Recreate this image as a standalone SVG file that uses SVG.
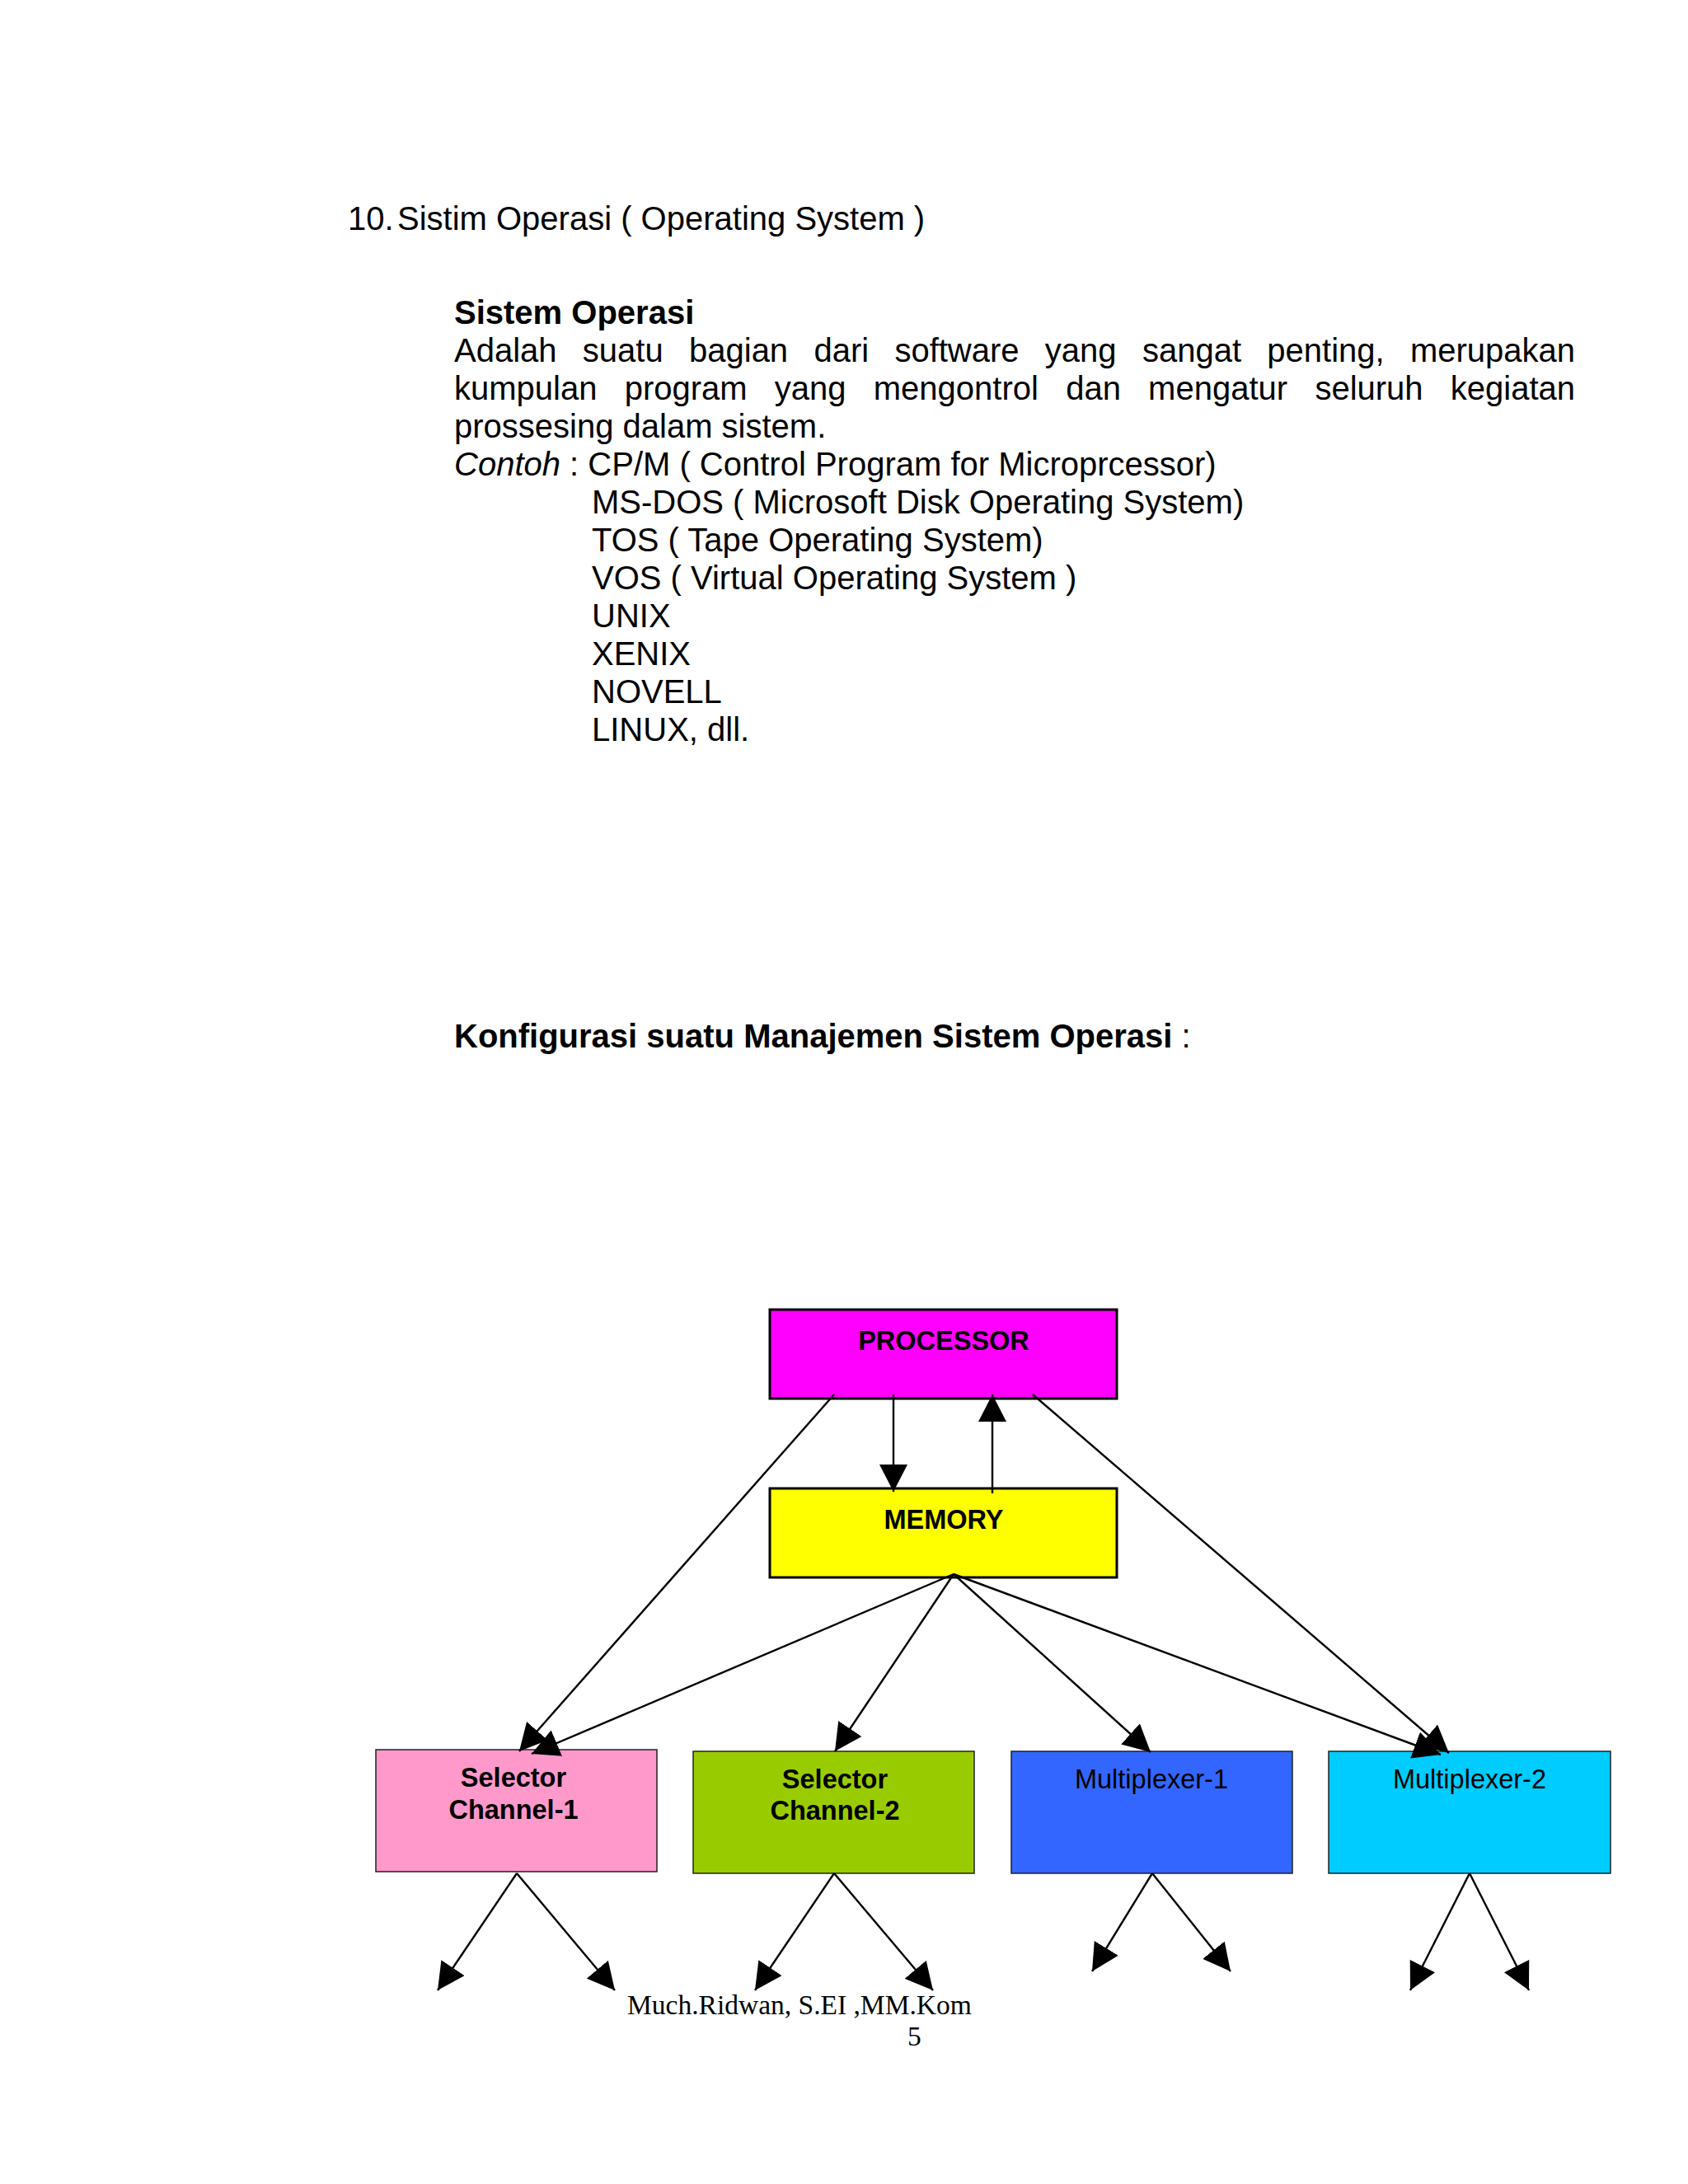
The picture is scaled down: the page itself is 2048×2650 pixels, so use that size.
<svg xmlns="http://www.w3.org/2000/svg" width="2048" height="2650" viewBox="0 0 2048 2650">
<style>
.t{font-family:"Liberation Sans",Arial,sans-serif;font-size:40px;fill:#000}
.b{font-weight:bold}
.i{font-style:italic}
.nl{font-family:"Liberation Sans",Arial,sans-serif;font-size:32.5px;fill:#000;text-anchor:middle}
.ft{font-family:"Liberation Serif","Times New Roman",serif;font-size:33.5px;fill:#000}
.box{stroke:#000;stroke-width:3}
.sbox{stroke:#222;stroke-width:1.5}
.c{stroke:#000;stroke-width:2.4;fill:none;marker-end:url(#ah)}
</style>
<defs>
<marker id="ah" viewBox="0 0 33 34" refX="33" refY="17" markerWidth="33" markerHeight="34" markerUnits="userSpaceOnUse" orient="auto">
<path d="M0,0 L33,17 L0,34 Z" fill="#000"/>
</marker>
</defs>
<rect width="2048" height="2650" fill="#fff"/>

<g id="text">
<text class="t" x="422" y="279">10.</text>
<text class="t" x="482" y="279">Sistim Operasi ( Operating System )</text>
<text class="t b" x="551" y="393">Sistem Operasi</text>
<text class="t" y="439"><tspan x="551">Adalah</tspan><tspan x="706.8">suatu</tspan><tspan x="836">bagian</tspan><tspan x="987.4">dari</tspan><tspan x="1085.4">software</tspan><tspan x="1267.8">yang</tspan><tspan x="1385.9">sangat</tspan><tspan x="1537.3">penting,</tspan><tspan x="1710.9">merupakan</tspan></text>
<text class="t" y="485"><tspan x="551">kumpulan</tspan><tspan x="757.7">program</tspan><tspan x="939.8">yang</tspan><tspan x="1059.8">mengontrol</tspan><tspan x="1293.2">dan</tspan><tspan x="1393.1">mengatur</tspan><tspan x="1595.4">seluruh</tspan><tspan x="1759.8">kegiatan</tspan></text>
<text class="t" x="551" y="531">prossesing dalam sistem.</text>
<text class="t" x="551" y="577"><tspan class="i">Contoh</tspan> : CP/M ( Control Program for Microprcessor)</text>
<text class="t" x="718" y="623">MS-DOS ( Microsoft Disk Operating System)</text>
<text class="t" x="718" y="669">TOS ( Tape Operating System)</text>
<text class="t" x="718" y="715">VOS ( Virtual Operating System )</text>
<text class="t" x="718" y="761">UNIX</text>
<text class="t" x="718" y="807">XENIX</text>
<text class="t" x="718" y="853">NOVELL</text>
<text class="t" x="718" y="899">LINUX, dll.</text>
<text class="t" x="551" y="1271"><tspan class="b">Konfigurasi suatu Manajemen Sistem Operasi</tspan> :</text>
</g>

<g id="processor">
<rect class="box" x="934" y="1589" width="421" height="108" fill="#FF00FF"/>
<text class="nl b" x="1145" y="1638">PROCESSOR</text>
</g>
<g id="memory">
<rect class="box" x="934" y="1806" width="421" height="108" fill="#FFFF00"/>
<text class="nl b" x="1145" y="1855">MEMORY</text>
</g>
<g id="selector1">
<rect class="sbox" x="456" y="2123" width="341" height="148" fill="#FF99CC"/>
<text class="nl b" x="623" y="2168">Selector</text>
<text class="nl b" x="623" y="2207">Channel-1</text>
</g>
<g id="selector2">
<rect class="sbox" x="841" y="2125" width="341" height="148" fill="#99CC00"/>
<text class="nl b" x="1013" y="2170">Selector</text>
<text class="nl b" x="1013" y="2208">Channel-2</text>
</g>
<g id="multiplexer1">
<rect class="sbox" x="1227" y="2125" width="341" height="148" fill="#3366FF"/>
<text class="nl" x="1397" y="2170">Multiplexer-1</text>
</g>
<g id="multiplexer2">
<rect class="sbox" x="1612" y="2125" width="342" height="148" fill="#00CCFF"/>
<text class="nl" x="1783" y="2170">Multiplexer-2</text>
</g>

<g id="connectors">
<line class="c" x1="1084" y1="1692" x2="1084" y2="1810"/>
<line class="c" x1="1204" y1="1812" x2="1204" y2="1692"/>
<line class="c" x1="1012" y1="1692" x2="630" y2="2125"/>
<line class="c" x1="1253" y1="1692" x2="1758" y2="2127"/>
<line class="c" x1="1157" y1="1910" x2="645" y2="2128"/>
<line class="c" x1="1157" y1="1910" x2="1013" y2="2125"/>
<line class="c" x1="1157" y1="1910" x2="1396" y2="2126"/>
<line class="c" x1="1157" y1="1910" x2="1748" y2="2129"/>
<line class="c" x1="627" y1="2273" x2="531" y2="2415"/>
<line class="c" x1="627" y1="2273" x2="746" y2="2415"/>
<line class="c" x1="1012" y1="2273" x2="916" y2="2415"/>
<line class="c" x1="1012" y1="2273" x2="1132" y2="2415"/>
<line class="c" x1="1398" y1="2273" x2="1325" y2="2392"/>
<line class="c" x1="1398" y1="2273" x2="1493" y2="2392"/>
<line class="c" x1="1783" y1="2273" x2="1711" y2="2415"/>
<line class="c" x1="1783" y1="2273" x2="1855" y2="2415"/>
</g>

<g id="footer">
<text class="ft" x="761" y="2444">Much.Ridwan, S.EI ,MM.Kom</text>
<text class="ft" x="1101" y="2482">5</text>
</g>
</svg>
